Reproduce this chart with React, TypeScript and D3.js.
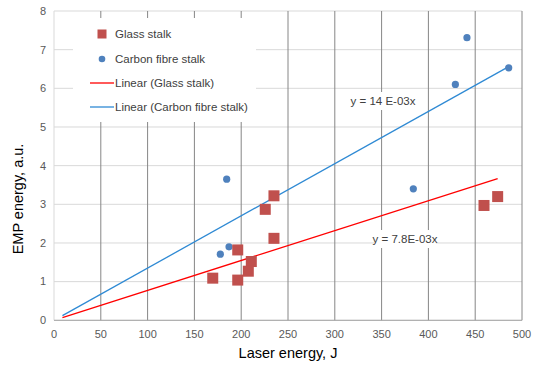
import React from "react";
import * as d3 from "d3";

const glassX = [235, 225.7, 235, 196.3, 210.8, 207.6, 169.6, 196.3, 459.4, 474];
const glassY = [3.22, 2.87, 2.12, 1.82, 1.52, 1.27, 1.09, 1.04, 2.97, 3.2];
const carbonX = [184.5, 187, 177.7, 383.9, 441.2, 428.8, 485.8];
const carbonY = [3.65, 1.9, 1.71, 3.4, 7.31, 6.1, 6.53];
const xTicks = [0, 50, 100, 150, 200, 250, 300, 350, 400, 450, 500];
const yTicks = [0, 1, 2, 3, 4, 5, 6, 7, 8];
const trendStart = 9;
const glassColor = "#C0504D";
const carbonColor = "#4F81BD";
const glassTrendColor = "#FF0000";
const carbonTrendColor = "#2F8AD4";

function slopeThroughOrigin(xs: number[], ys: number[]) {
  const sxy = d3.sum(xs.map((x, i) => x * ys[i]));
  const sxx = d3.sum(xs.map((x) => x * x));
  return sxy / sxx;
}

export default function App() {
  const W = 533, H = 365;
  const x = d3.scaleLinear().domain([0, 500]).range([54, 522]);
  const y = d3.scaleLinear().domain([0, 8]).range([320.3, 11]);
  const font = "'Liberation Sans', Arial, sans-serif";
  const gSlope = slopeThroughOrigin(glassX, glassY);
  const cSlope = slopeThroughOrigin(carbonX, carbonY);
  const gMax = d3.max(glassX) as number;
  const cMax = d3.max(carbonX) as number;
  const line = d3.line<[number, number]>().x((d) => x(d[0])).y((d) => y(d[1]));
  const gLine = line([[trendStart, trendStart * gSlope], [gMax, gMax * gSlope]]);
  const cLine = line([[trendStart, trendStart * cSlope], [cMax, cMax * cSlope]]);
  const sq = 11;
  return (
    <svg width={W} height={H} style={{ position: "absolute", left: 0, top: 0 }}>
      <rect x={0} y={0} width={W} height={H} fill="#fff" />
      {yTicks.map((t) => (
        <line key={"h" + t} x1={x(0)} x2={x(500)} y1={y(t)} y2={y(t)} stroke="#D9D9D9" strokeWidth={1} />
      ))}
      {xTicks.filter((t) => t > 0).map((t) => (
        <line key={"v" + t} x1={x(t)} x2={x(t)} y1={y(0)} y2={y(8)} stroke="#868686" strokeWidth={1} />
      ))}
      <line x1={x(0)} x2={x(0)} y1={y(0)} y2={y(8)} stroke="#D9D9D9" />
      <line x1={x(0)} x2={x(500)} y1={y(0)} y2={y(0)} stroke="#A6A6A6" />
      {yTicks.map((t) => (
        <text key={"yl" + t} x={46} y={y(t)} dy="0.35em" textAnchor="end" fontSize={11} fill="#595959" fontFamily={font}>{t}</text>
      ))}
      {xTicks.map((t) => (
        <text key={"xl" + t} x={x(t)} y={334} dy="0.35em" textAnchor="middle" fontSize={11} fill="#595959" fontFamily={font}>{t}</text>
      ))}
      <path d={cLine || ""} stroke={carbonTrendColor} strokeWidth={1.3} fill="none" />
      <path d={gLine || ""} stroke={glassTrendColor} strokeWidth={1.3} fill="none" />
      {carbonX.map((v, i) => (
        <circle key={"c" + i} cx={x(v)} cy={y(carbonY[i])} r={3.6} fill={carbonColor} />
      ))}
      {glassX.map((v, i) => (
        <rect key={"g" + i} x={x(v) - sq / 2} y={y(glassY[i]) - sq / 2} width={sq} height={sq} fill={glassColor} />
      ))}
      <rect x={348} y={92} width={70} height={18} fill="#fff" />
      <text x={383} y={101} dy="0.35em" textAnchor="middle" fontSize={11.5} fill="#404040" fontFamily={font}>y = 14 E-03x</text>
      <rect x={374} y={230} width={62} height={18} fill="#fff" />
      <text x={405} y={239} dy="0.35em" textAnchor="middle" fontSize={11.5} fill="#404040" fontFamily={font}>y = 7.8E-03x</text>
      <rect x={73} y={18} width={183} height={104} fill="#fff" />
      <rect x={102 - 4.5} y={34 - 4.5} width={9} height={9} fill={glassColor} />
      <text x={115} y={34} dy="0.35em" fontSize={11.5} fill="#404040" fontFamily={font}>Glass stalk</text>
      <circle cx={102} cy={59} r={3.3} fill={carbonColor} />
      <text x={115} y={59} dy="0.35em" fontSize={11.5} fill="#404040" fontFamily={font}>Carbon fibre stalk</text>
      <line x1={90} x2={114} y1={83} y2={83} stroke={glassTrendColor} strokeWidth={1.3} />
      <text x={115} y={83} dy="0.35em" fontSize={11.5} fill="#404040" fontFamily={font}>Linear (Glass stalk)</text>
      <line x1={90} x2={114} y1={107} y2={107} stroke={carbonTrendColor} strokeWidth={1.3} />
      <text x={115} y={107} dy="0.35em" fontSize={11.5} fill="#404040" fontFamily={font}>Linear (Carbon fibre stalk)</text>
      <text x={288} y={353} dy="0.35em" textAnchor="middle" fontSize={14.5} fill="#000" fontFamily={font}>Laser energy, J</text>
      <text transform={`translate(18,199) rotate(-90)`} dy="0.35em" textAnchor="middle" fontSize={14.5} fill="#000" fontFamily={font}>EMP energy, a.u.</text>
    </svg>
  );
}
